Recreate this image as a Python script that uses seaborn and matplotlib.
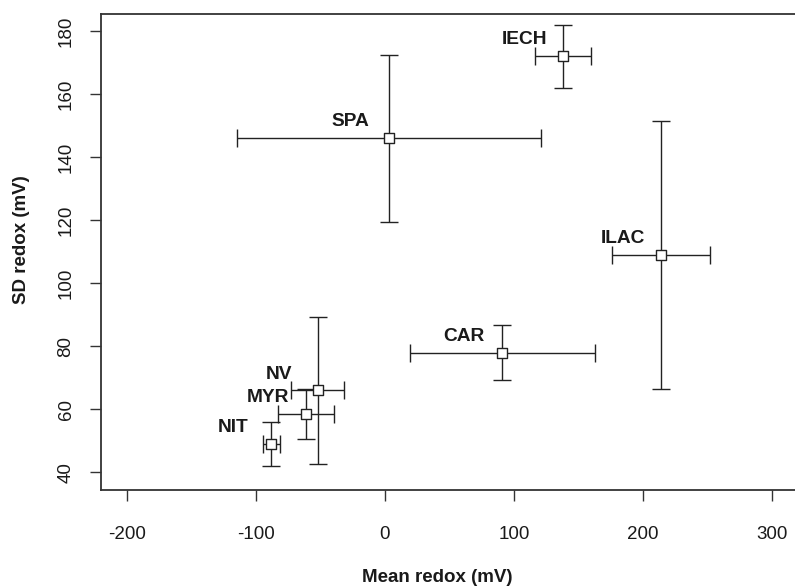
import matplotlib
matplotlib.use("Agg")
import matplotlib.pyplot as plt
import seaborn as sns
import pandas as pd

# ---- data ----
sites = ["IECH", "SPA", "ILAC", "CAR", "NV", "MYR", "NIT"]
mean_redox = [138, 3, 214, 91, -52, -61, -88]
sd_redox = [172, 146, 109, 78, 66, 58.5, 49]
mean_err = [21.5, 118, 38, 71.5, 20.5, 21.5, 6.6]
sd_err = [10, 26.5, 42.5, 8.8, 23.3, 7.8, 7]
x_ticks = [-200, -100, 0, 100, 200, 300]
y_ticks = [40, 60, 80, 100, 120, 140, 160, 180]

df = pd.DataFrame({"site": sites, "mean": mean_redox, "sd": sd_redox,
                   "xerr": mean_err, "yerr": sd_err})

sns.set_theme(style="white")
plt.rcParams["font.family"] = ["Liberation Sans", "DejaVu Sans"]

fig = plt.figure(figsize=(7.95, 5.88), dpi=100)
W, H = 795, 588
left, right, top, bottom = 101, 798, 13.5, 490
ax = fig.add_axes([left / W, 1 - bottom / H, (right - left) / W, (bottom - top) / H])

ink = "#1a1a1a"
ax.errorbar(df["mean"], df["sd"], xerr=df["xerr"], yerr=df["yerr"], fmt="none",
            ecolor="#222222", elinewidth=1.0, capsize=6.5, capthick=1.0, zorder=2)
sns.scatterplot(data=df, x="mean", y="sd", marker="s", s=48, color="white",
                edgecolor="#222222", linewidth=1.0, zorder=3, ax=ax, legend=False)

for _, r in df.iterrows():
    ax.text(r["mean"] - 30, r["sd"] + 5.2, r["site"], ha="center", va="center",
            fontsize=13.8, fontweight="bold", color=ink, zorder=4)

ax.set_xlim(-220, 320)
ax.set_ylim(34.4, 185.6)
ax.set_xticks(x_ticks)
ax.set_yticks(y_ticks)
ax.set_xticklabels([str(v) for v in x_ticks])
ax.set_yticklabels([str(v) for v in y_ticks], rotation=90, va="center")

for s in ax.spines.values():
    s.set_color("#333333")
    s.set_linewidth(1.3)

ax.tick_params(axis="x", direction="out", length=8, width=1.0, color="#333333",
               pad=18, labelsize=13.5, labelcolor=ink, bottom=True)
ax.tick_params(axis="y", direction="out", length=8, width=1.0, color="#333333",
               pad=11, labelsize=13.5, labelcolor=ink, left=True)

ax.set_xlabel("Mean redox (mV)", fontsize=13.5, fontweight="bold", color=ink)
ax.set_ylabel("SD redox (mV)", fontsize=13.5, fontweight="bold", color=ink)
ax.xaxis.label.set_va("center")
ax.yaxis.label.set_va("center")
ax.xaxis.set_label_coords((437 - left) / (right - left), -(578 - bottom) / (bottom - top))
ax.yaxis.set_label_coords(-(left - 22) / (right - left), (bottom - 240) / (bottom - top))

fig.savefig("out.png", dpi=100)
